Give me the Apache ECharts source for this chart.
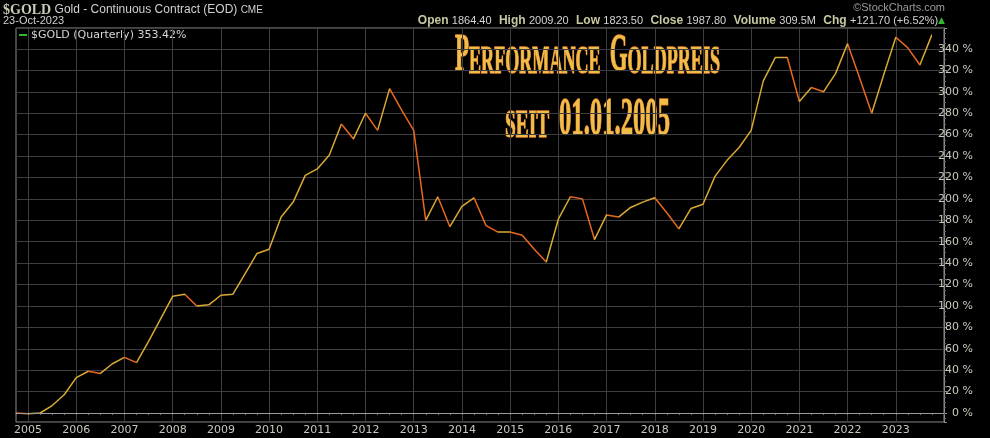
<!DOCTYPE html>
<html>
<head>
<meta charset="utf-8">
<title>Performance Goldpreis</title>
<script src="https://cdn.jsdelivr.net/npm/echarts@6/dist/echarts.min.js"></script>
<style>
html, body { margin: 0; padding: 0; background: #000; }
#my-chart { width: 990px; height: 438px; }
</style>
</head>
<body>
<div id="my-chart"></div>
<script>
// Quartale (Startpunkt 2004-Q4 = 0 %, letzter Eintrag nur als rechter Rand)
var quarters = [
    '2004-Q4',
    '2005-Q1', '2005-Q2', '2005-Q3', '2005-Q4',
    '2006-Q1', '2006-Q2', '2006-Q3', '2006-Q4',
    '2007-Q1', '2007-Q2', '2007-Q3', '2007-Q4',
    '2008-Q1', '2008-Q2', '2008-Q3', '2008-Q4',
    '2009-Q1', '2009-Q2', '2009-Q3', '2009-Q4',
    '2010-Q1', '2010-Q2', '2010-Q3', '2010-Q4',
    '2011-Q1', '2011-Q2', '2011-Q3', '2011-Q4',
    '2012-Q1', '2012-Q2', '2012-Q3', '2012-Q4',
    '2013-Q1', '2013-Q2', '2013-Q3', '2013-Q4',
    '2014-Q1', '2014-Q2', '2014-Q3', '2014-Q4',
    '2015-Q1', '2015-Q2', '2015-Q3', '2015-Q4',
    '2016-Q1', '2016-Q2', '2016-Q3', '2016-Q4',
    '2017-Q1', '2017-Q2', '2017-Q3', '2017-Q4',
    '2018-Q1', '2018-Q2', '2018-Q3', '2018-Q4',
    '2019-Q1', '2019-Q2', '2019-Q3', '2019-Q4',
    '2020-Q1', '2020-Q2', '2020-Q3', '2020-Q4',
    '2021-Q1', '2021-Q2', '2021-Q3', '2021-Q4',
    '2022-Q1', '2022-Q2', '2022-Q3', '2022-Q4',
    '2023-Q1', '2023-Q2', '2023-Q3', '2023-Q4',
    '2024-Q1'
];

// Jahresbeschriftung der x-Achse
var yearLabels = ['2005', '2006', '2007', '2008', '2009', '2010', '2011', '2012', '2013', '2014',
                  '2015', '2016', '2017', '2018', '2019', '2020', '2021', '2022', '2023'];

// Performance in % seit 01.01.2005 (quartalsweise)
var perf = [
    0,
    -0.8, 0, 7, 17,
    33, 39, 37, 46,
    52, 47, 67, 88,
    109, 111, 100, 101,
    110, 111, 130, 149,
    153, 183, 197, 222,
    228, 241, 270, 256,
    280, 264, 303, 283,
    264, 180, 202, 174,
    193, 201, 175, 169,
    169, 166, 153, 141,
    181, 202, 200, 162,
    185, 183, 192, 197,
    201, 187, 172, 191,
    195, 221, 236, 248,
    264, 310, 332, 332,
    291, 304, 300, 317,
    345, 313, 280, 316,
    351, 341, 325, 353.42
];

var upColor = '#d8a933';
var downColor = '#ea681e';
var gridColor = '#3e3e3e';
var frameColor = '#8c8c8c';
var labelColor = '#c8c8bc';

// steigende Abschnitte gold, fallende orange
var pieces = [];
for (var i = 0; i < perf.length - 1; i++) {
    pieces.push({gte: i, lte: i + 1, color: perf[i + 1] >= perf[i] ? upColor : downColor});
}

function isYearStart(idx, val) {
    return val.slice(5) === 'Q1' && yearLabels.indexOf(val.slice(0, 4)) >= 0;
}

// Breite der Kapitaelchen-Ueberschrift messen, um sie schmal zu stauchen
function measure(parts) {
    var ctx = document.createElement('canvas').getContext('2d');
    var w = 0;
    parts.forEach(function (p) {
        ctx.font = p[1];
        w += ctx.measureText(p[0]).width;
    });
    return w;
}

var bigFont = 'bold 52px "Liberation Serif"';
var smallFont = 'bold 41px "Liberation Serif"';
var line1W = measure([['P', bigFont], ['ERFORMANCE', smallFont], ['  ', smallFont], ['G', bigFont], ['OLDPREIS', smallFont]]);
var line2W = measure([['SEIT', smallFont], ['  ', smallFont], ['01.01.2005', bigFont]]);

var titleRich = {
    a: {font: bigFont, fill: '#f0bd4a', stroke: '#de7a26', lineWidth: 1.5, lineHeight: 52, verticalAlign: 'bottom'},
    b: {font: smallFont, fill: '#f0bd4a', stroke: '#de7a26', lineWidth: 1.5, lineHeight: 52, verticalAlign: 'bottom'}
};

var myChart = echarts.init(document.getElementById('my-chart'));

var option = {
    backgroundColor: '#000000',
    animation: false,
    grid: {
        left: 16, right: 46, top: 28, bottom: 16,
        show: true, borderColor: frameColor, borderWidth: 1
    },
    visualMap: {
        show: false,
        type: 'piecewise',
        dimension: 0,
        seriesIndex: 0,
        pieces: pieces
    },
    xAxis: {
        type: 'category',
        data: quarters,
        boundaryGap: false,
        axisLine: {lineStyle: {color: frameColor}},
        axisTick: {show: true, interval: 0, length: 2, lineStyle: {color: '#6a6a6a'}},
        axisLabel: {
            interval: isYearStart,
            formatter: function (v) { return v.slice(0, 4); },
            color: labelColor, fontSize: 11, fontFamily: 'DejaVu Sans', margin: 3
        },
        splitLine: {show: true, interval: isYearStart, lineStyle: {color: gridColor}}
    },
    yAxis: {
        type: 'value',
        position: 'right',
        min: -8.4,
        max: 359.6,
        splitNumber: 18,
        minInterval: 20,
        maxInterval: 20,
        axisLine: {show: true, lineStyle: {color: frameColor}},
        axisTick: {show: true, length: 3, lineStyle: {color: frameColor}},
        minorTick: {show: true, splitNumber: 4, length: 2, lineStyle: {color: '#6a6a6a'}},
        axisLabel: {
            formatter: '{value} %',
            showMinLabel: false, showMaxLabel: false,
            align: 'right', margin: 29,
            color: labelColor, fontSize: 11, fontFamily: 'DejaVu Sans'
        },
        splitLine: {show: true, lineStyle: {color: gridColor}}
    },
    series: [{
        name: '$GOLD',
        type: 'line',
        data: perf,
        symbol: 'none',
        lineStyle: {width: 1.5},
        markLine: {
            silent: true,
            symbol: 'none',
            label: {show: false},
            lineStyle: {color: '#9a9a9a', type: 'solid', width: 1},
            data: [{yAxis: 0}]
        }
    }],
    graphic: [
        {
            type: 'text', x: 3, y: 10,
            style: {
                text: '{t|$GOLD} {s|Gold - Continuous Contract (EOD)} {c|CME}',
                verticalAlign: 'middle', textVerticalAlign: 'middle',
                rich: {
                    t: {font: 'bold 14px "Liberation Serif"', fill: '#c9c9b6'},
                    s: {font: '12px "Liberation Sans"', fill: '#d0d0d0'},
                    c: {font: '10px "Liberation Sans"', fill: '#d0d0d0'}
                }
            }
        },
        {
            type: 'text', x: 3, y: 21,
            style: {
                text: '23-Oct-2023', font: '11px "Liberation Sans"', fill: '#d0d0d0',
                verticalAlign: 'middle', textVerticalAlign: 'middle'
            }
        },
        {
            type: 'rect', shape: {x: 19, y: 34, width: 8, height: 2},
            style: {fill: '#2fb82f'}
        },
        {
            type: 'text', x: 31, y: 35,
            style: {
                text: '$GOLD (Quarterly) 353.42%', font: '11px "DejaVu Sans"', fill: '#d6d6d6',
                verticalAlign: 'middle', textVerticalAlign: 'middle'
            }
        },
        {
            type: 'text', x: 945, y: 8,
            style: {
                text: '\u00a9StockCharts.com', font: '11px "Liberation Sans"', fill: '#9c9c9c',
                align: 'right', textAlign: 'right',
                verticalAlign: 'middle', textVerticalAlign: 'middle'
            }
        },
        {
            type: 'text', x: 945, y: 21,
            style: {
                text: '{l|Open} {v|1864.40} {l|High} {v|2009.20} {l|Low} {v|1823.50} {l|Close} {v|1987.80} ' +
                      '{l|Volume} {v|309.5M} {l|Chg} {v|+121.70 (+6.52%)}{g|\u25b2}',
                align: 'right', textAlign: 'right',
                verticalAlign: 'middle', textVerticalAlign: 'middle',
                rich: {
                    l: {font: 'bold 12px "Liberation Sans"', fill: '#c8c8a2', padding: [0, 0, 0, 4]},
                    v: {font: '11px "Liberation Sans"', fill: '#d4d4d4'},
                    g: {font: '9px "DejaVu Sans"', fill: '#2fb82f'}
                }
            }
        },
        {
            type: 'text', x: 455, y: 57,
            scaleX: 265 / line1W,
            style: {
                text: '{a|P}{b|ERFORMANCE}{b|  }{a|G}{b|OLDPREIS}',
                align: 'left', textAlign: 'left',
                verticalAlign: 'middle', textVerticalAlign: 'middle',
                rich: titleRich
            }
        },
        {
            type: 'text', x: 505, y: 121,
            scaleX: 165 / line2W,
            style: {
                text: '{b|SEIT}{b|  }{a|01.01.2005}',
                align: 'left', textAlign: 'left',
                verticalAlign: 'middle', textVerticalAlign: 'middle',
                rich: titleRich
            }
        }
    ]
};

myChart.setOption(option);
</script>
</body>
</html>
